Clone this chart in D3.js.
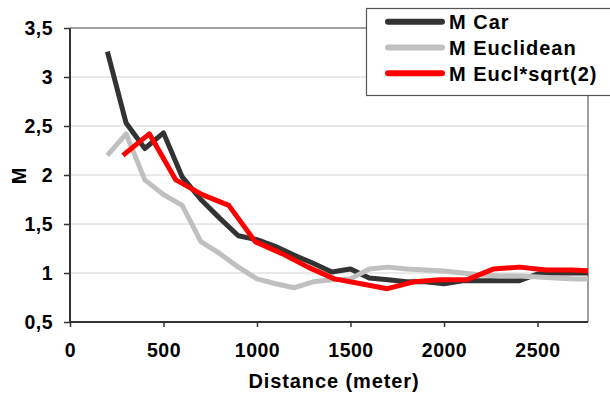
<!DOCTYPE html>
<html>
<head>
<meta charset="utf-8">
<script src="https://cdn.jsdelivr.net/npm/d3@7"></script>
<style>
  body { margin: 0; background: #fff; }
  text { font-family: "Liberation Sans", Arial, sans-serif; font-weight: bold; fill: #000; }
</style>
</head>
<body>
<div id="chart"></div>
<script>
var seriesNames = ["M Car", "M Euclidean", "M Eucl*sqrt(2)"];

var carDist = [200, 300, 400, 500, 600, 700, 800, 900, 1000, 1100, 1200, 1300, 1400, 1500,
  1600, 1700, 1800, 1900, 2000, 2100, 2200, 2300, 2400, 2500, 2600, 2700, 2800];
var carM = [3.26, 2.53, 2.27, 2.43, 1.98, 1.75, 1.56, 1.38, 1.34, 1.27, 1.18, 1.10, 1.01, 1.04,
  0.95, 0.93, 0.91, 0.91, 0.89, 0.92, 0.92, 0.92, 0.92, 0.99, 1.00, 1.00, 1.00];

var euclDist = [200, 300, 400, 500, 600, 700, 800, 900, 1000, 1100, 1200, 1300, 1400, 1500,
  1600, 1700, 1800, 1900, 2000, 2100, 2200, 2300, 2400, 2500, 2600, 2700, 2800];
var euclM = [2.20, 2.42, 1.95, 1.80, 1.69, 1.32, 1.20, 1.06, 0.94, 0.89, 0.85, 0.91, 0.93, 0.94,
  1.04, 1.06, 1.04, 1.03, 1.02, 1.00, 0.98, 0.97, 0.97, 0.96, 0.95, 0.94, 0.94];

var sqrtDist = [283, 424, 566, 707, 849, 990, 1131, 1273, 1414, 1556, 1697, 1838, 1980, 2121,
  2263, 2404, 2546, 2687, 2828];
var sqrtM = [2.20, 2.42, 1.95, 1.80, 1.69, 1.32, 1.20, 1.06, 0.94, 0.89, 0.84, 0.91, 0.93, 0.93,
  1.04, 1.06, 1.03, 1.03, 1.02];

var xTicks = [0, 500, 1000, 1500, 2000, 2500];
var yTicks = [0.5, 1, 1.5, 2, 2.5, 3, 3.5];

var colors = ["#333333", "#c0c0c0", "#ff0000"];

var width = 610, height = 396;
var margin = { top: 28, right: 22, bottom: 74, left: 70 };

var svg = d3.select("#chart").append("svg")
    .attr("width", width)
    .attr("height", height);

var x = d3.scaleLinear()
    .domain([0, 2770])
    .range([margin.left, width - margin.right]);

var y = d3.scaleLinear()
    .domain([0.5, 3.5])
    .range([height - margin.bottom, margin.top]);

// comma as decimal mark, no thousands separator
var fmt = function(d) { return String(d).replace(".", ","); };

// gridlines
svg.append("g")
    .selectAll("line")
    .data(yTicks.slice(1, -1))
    .enter().append("line")
    .attr("x1", x.range()[0]).attr("x2", x.range()[1])
    .attr("y1", function(d) { return y(d); })
    .attr("y2", function(d) { return y(d); })
    .attr("stroke", "#d4d4d4")
    .attr("stroke-width", 1);

// plot border top / right
svg.append("line")
    .attr("x1", x.range()[0]).attr("x2", x.range()[1])
    .attr("y1", y(3.5)).attr("y2", y(3.5))
    .attr("stroke", "#808080").attr("stroke-width", 1.5);
svg.append("line")
    .attr("x1", x.range()[1]).attr("x2", x.range()[1])
    .attr("y1", y(3.5)).attr("y2", y(0.5))
    .attr("stroke", "#808080").attr("stroke-width", 1.5);

// clip for lines
svg.append("defs").append("clipPath")
    .attr("id", "plot-clip")
    .append("rect")
    .attr("x", x.range()[0])
    .attr("y", 0)
    .attr("width", x.range()[1] - x.range()[0])
    .attr("height", y(0.5));

var series = [
  d3.zip(carDist, carM),
  d3.zip(euclDist, euclM),
  d3.zip(sqrtDist, sqrtM)
];

var line = d3.line()
    .x(function(d) { return x(d[0]); })
    .y(function(d) { return y(d[1]); });

svg.append("g")
    .attr("clip-path", "url(#plot-clip)")
    .selectAll("path")
    .data(series)
    .enter().append("path")
    .attr("d", line)
    .attr("fill", "none")
    .attr("stroke", function(d, i) { return colors[i]; })
    .attr("stroke-width", 5)
    .attr("stroke-linejoin", "round");

// axes
var yAxis = svg.append("g")
    .attr("transform", "translate(" + margin.left + ",0)")
    .call(d3.axisLeft(y).tickValues(yTicks).tickFormat(fmt).tickSize(6).tickPadding(11));

var xAxis = svg.append("g")
    .attr("transform", "translate(0," + (height - margin.bottom) + ")")
    .call(d3.axisBottom(x).tickValues(xTicks).tickFormat(fmt).tickSize(5).tickPadding(16));

[yAxis, xAxis].forEach(function(g) {
  g.select(".domain").attr("stroke", "#333").attr("stroke-width", 2);
  g.selectAll(".tick line").attr("stroke", "#333").attr("stroke-width", 1.5);
  g.selectAll(".tick text")
    .style("font-family", "'Liberation Sans', Arial, sans-serif")
    .style("font-weight", "bold")
    .style("font-size", "19.5px")
    .style("letter-spacing", "0.5px")
    .attr("fill", "#000");
});
xAxis.select(".domain").attr("d", "M" + x.range()[0] + ",0H" + x.range()[1]);
yAxis.select(".domain").attr("d", "M0," + y.range()[0] + "V" + y.range()[1]);

// axis titles
svg.append("text")
    .attr("x", 334)
    .attr("y", 388)
    .attr("text-anchor", "middle")
    .style("font-size", "20px")
    .style("letter-spacing", "0.9px")
    .text("Distance (meter)");

svg.append("text")
    .attr("transform", "translate(26,176) rotate(-90)")
    .attr("text-anchor", "middle")
    .style("font-size", "20px")
    .text("M");

// legend
var legend = svg.append("g");
legend.append("rect")
    .attr("x", 366.5).attr("y", 8.5)
    .attr("width", 260).attr("height", 87)
    .attr("fill", "#fff")
    .attr("stroke", "#555")
    .attr("stroke-width", 1.2);

var items = legend.selectAll("g.item")
    .data(seriesNames)
    .enter().append("g")
    .attr("class", "item")
    .attr("transform", function(d, i) { return "translate(0," + (21.7 + i * 25.8) + ")"; });

items.append("line")
    .attr("x1", 388).attr("x2", 442)
    .attr("y1", 0).attr("y2", 0)
    .attr("stroke", function(d, i) { return colors[i]; })
    .attr("stroke-width", 6)
    .attr("stroke-linecap", "round");

items.append("text")
    .attr("x", 449)
    .attr("y", 7.5)
    .style("font-size", "20px")
    .style("letter-spacing", "1px")
    .text(function(d) { return d; });
</script>
</body>
</html>
